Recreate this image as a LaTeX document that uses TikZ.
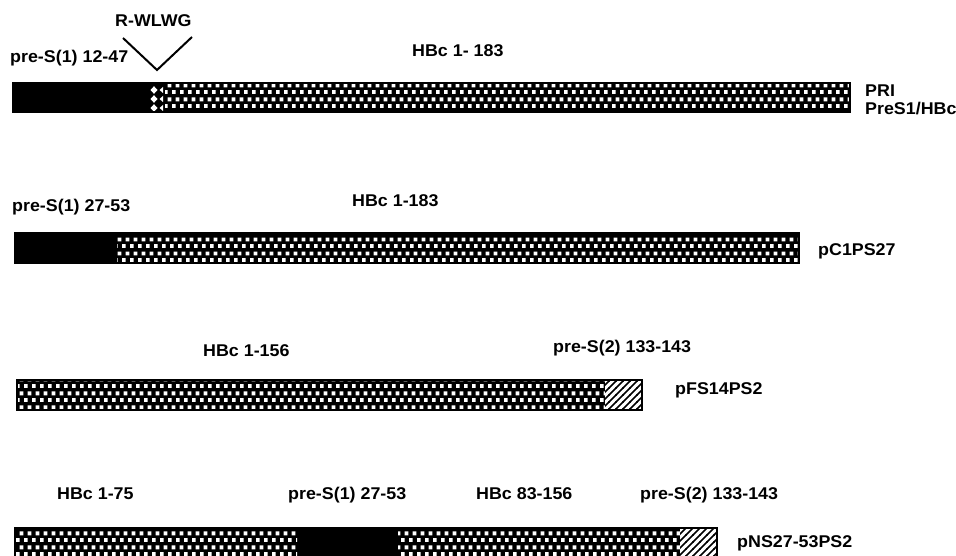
\documentclass[tikz,border=0pt]{standalone}
\usepackage{fontspec}
\newfontfamily\labfont[FakeStretch=1.05]{Liberation Sans}
\usetikzlibrary{patterns}
\pgfdeclarepatternformonly{checkdots}{\pgfpointorigin}{\pgfqpoint{8.2pt}{14pt}}{\pgfqpoint{8.2pt}{14pt}}{%
  \pgfpathrectangle{\pgfqpoint{0pt}{0pt}}{\pgfqpoint{4pt}{4pt}}%
  \pgfpathrectangle{\pgfqpoint{4.1pt}{7pt}}{\pgfqpoint{4pt}{4pt}}%
  \pgfusepath{fill}}
\pgfdeclarepatternformonly{hatchlines}{\pgfqpoint{-1pt}{-1pt}}{\pgfqpoint{8pt}{8pt}}{\pgfqpoint{7pt}{7pt}}{%
  \pgfsetlinewidth{1.7pt}%
  \pgfpathmoveto{\pgfqpoint{-0.5pt}{-0.5pt}}\pgfpathlineto{\pgfqpoint{7.5pt}{7.5pt}}%
  \pgfusepath{stroke}}
\begin{document}
\begin{tikzpicture}[x=1pt,y=-1pt,
  lab/.style={anchor=base west,inner sep=0pt,font=\labfont\bfseries\fontsize{17}{19}\selectfont},
  solidseg/.style={fill=black},
  checkseg/.style={pattern=checkdots,pattern color=white},
  hatchseg/.style={pattern=hatchlines,pattern color=black},
  barframe/.style={draw=black,line width=1.2pt},
  vline/.style={line width=2pt}]
\useasboundingbox (0,0) rectangle (956,556);
\clip (0,0) rectangle (956,556);

% ---- Row 1: PRI PreS1/HBc
\node[lab] (rwlwg) at (115,27) {R-WLWG};
\node[lab] (pres1a) at (10,63) {pre-S(1) 12-47};
\node[lab] (hbc183a) at (412,57) {HBc 1- 183};
\node[lab] (pri) at (865,97) {PRI};
\node[lab] (pres1hbc) at (865,115) {PreS1/HBc};
\coordinate (vl) at (123,38);
\coordinate (vb) at (157,70);
\coordinate (vr) at (192,37);
\draw[vline] (vl) -- (vb) -- (vr);
\fill[solidseg] (13,83) rectangle (165,112);
\fill[solidseg] (165,83) rectangle (850,112);
\fill[checkseg] (165,83) rectangle (850,112);
\foreach \yy in {90,99,108}{
  \fill[white] (154,\yy-3.8) -- (157.5,\yy) -- (154,\yy+3.8) -- (150.5,\yy) -- cycle;
  \fill[white] (163,\yy-3) -- (163,\yy+3) -- (159.5,\yy) -- cycle;
}
\draw[barframe] (13,83) rectangle (850,112);

% ---- Row 2: pC1PS27
\node[lab] (pres1b) at (12,212) {pre-S(1) 27-53};
\node[lab] (hbc183b) at (352,207) {HBc 1-183};
\node[lab] (pc1) at (818,256) {pC1PS27};
\fill[solidseg] (15,233) rectangle (799,263);
\fill[checkseg] (117,233) rectangle (799,263);
\draw[barframe] (15,233) rectangle (799,263);

% ---- Row 3: pFS14PS2
\node[lab] (hbc156a) at (203,356) {HBc 1-156};
\node[lab] (pres2a) at (553,352) {pre-S(2) 133-143};
\node[lab] (pfs) at (675,394) {pFS14PS2};
\fill[solidseg] (17,380) rectangle (605,410);
\fill[checkseg] (17,380) rectangle (605,410);
\fill[white] (605,380) rectangle (642,410);
\fill[hatchseg] (605,380) rectangle (642,410);
\draw[barframe] (17,380) rectangle (642,410);

% ---- Row 4: pNS27-53PS2
\node[lab] (hbc75) at (57,499) {HBc 1-75};
\node[lab] (pres1c) at (288,499) {pre-S(1) 27-53};
\node[lab] (hbc83) at (476,499) {HBc 83-156};
\node[lab] (pres2b) at (640,499) {pre-S(2) 133-143};
\node[lab] (pns) at (737,547) {pNS27-53PS2};
\fill[solidseg] (15,528) rectangle (680,560);
\fill[checkseg] (15,528) rectangle (297,560);
\fill[checkseg] (398,528) rectangle (680,560);
\fill[white] (680,528) rectangle (717,560);
\fill[hatchseg] (680,528) rectangle (717,560);
\draw[barframe] (15,528) rectangle (717,560);
\end{tikzpicture}
\end{document}
